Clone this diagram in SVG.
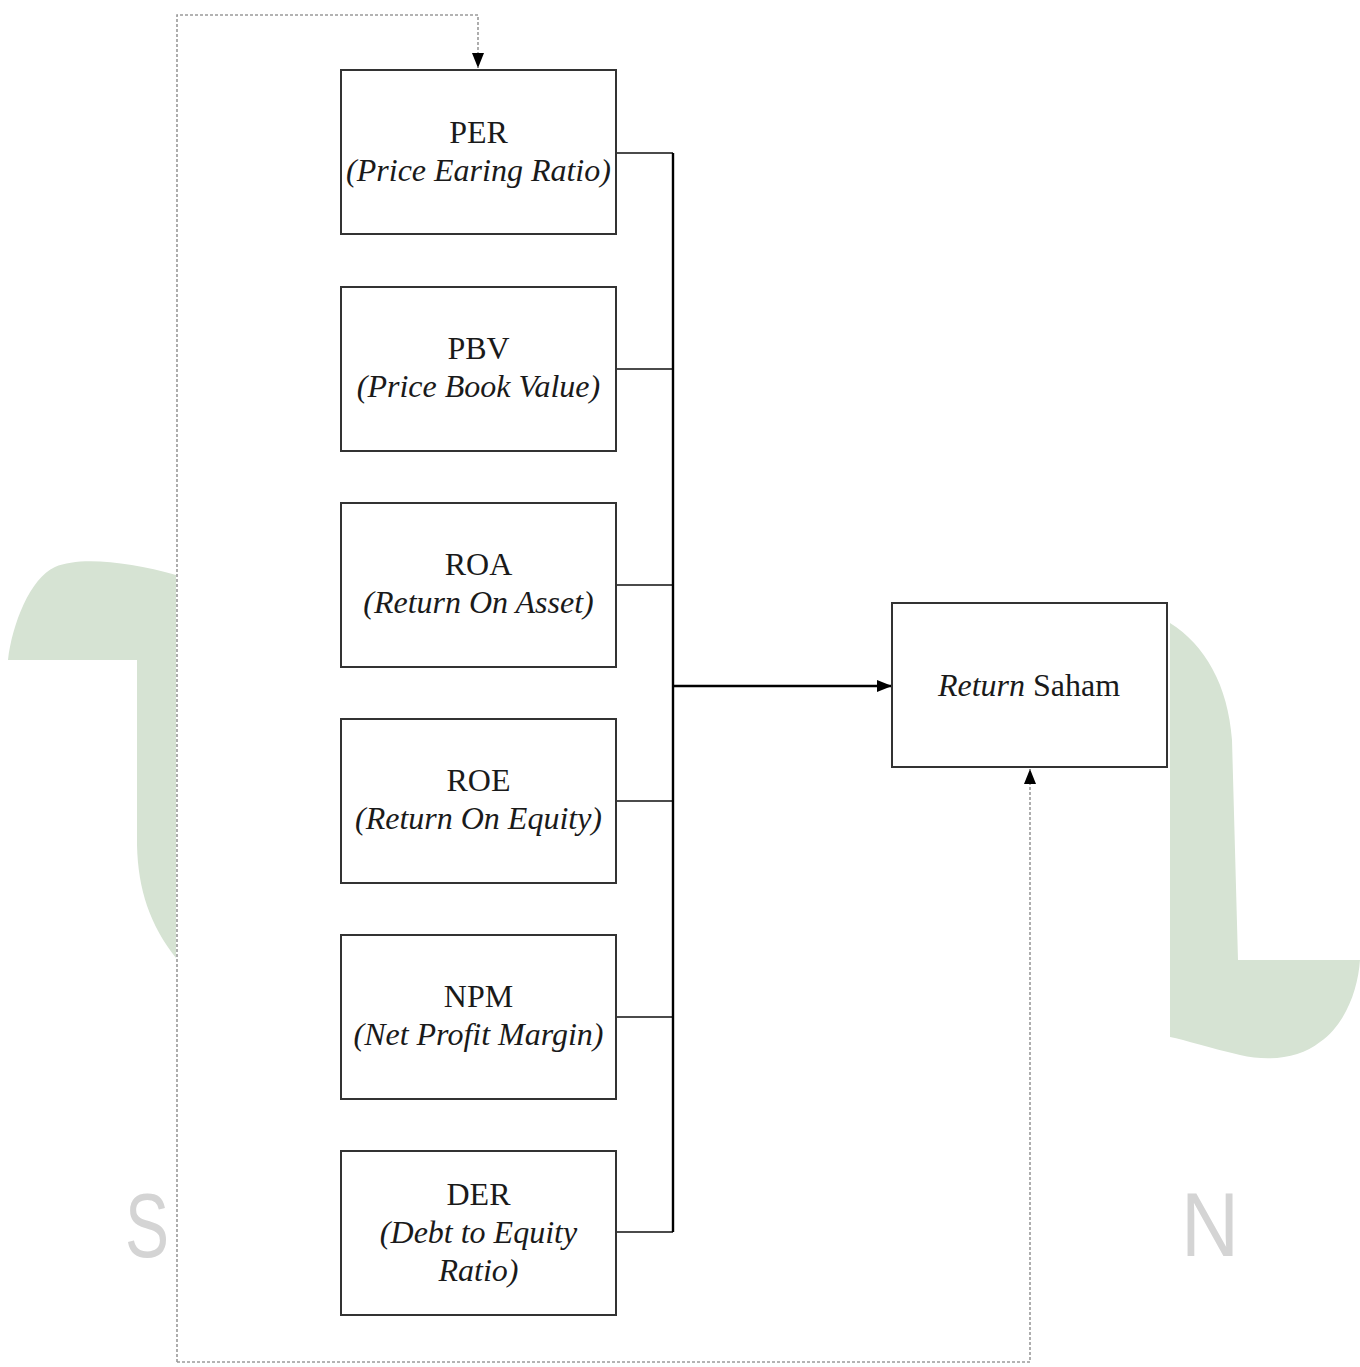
<svg xmlns="http://www.w3.org/2000/svg" width="1360" height="1367" viewBox="0 0 1360 1367">
<defs>
<style>
.box{fill:#fff;stroke:#333;stroke-width:2}
.t{font-family:"Liberation Serif","Times New Roman",serif;font-size:32px;fill:#1a1a1a;text-anchor:middle}
.i{font-style:italic}
.stub{fill:none;stroke:#111;stroke-width:1.6}
.bus{fill:none;stroke:#000;stroke-width:2.4}
.dot{fill:none;stroke:#9a9a9a;stroke-width:1.6;stroke-dasharray:3 2}
.wm{fill:#d6e3d3}
.wt{font-family:"Liberation Sans",Arial,sans-serif;font-size:90px;fill:#d4d4d4}
</style>
<marker id="ah" viewBox="0 0 10 10" refX="10" refY="5" markerWidth="15" markerHeight="12" markerUnits="userSpaceOnUse" orient="auto" preserveAspectRatio="none">
<path d="M0,0 L10,5 L0,10 Z" fill="#000"/>
</marker>
<marker id="ahd" viewBox="0 0 10 10" refX="10" refY="5" markerWidth="15" markerHeight="12" markerUnits="userSpaceOnUse" orient="auto" preserveAspectRatio="none">
<path d="M0,0 L10,5 L0,10 Z" fill="#000"/>
</marker>
</defs>
<rect width="1360" height="1367" fill="#fff"/>
<g id="watermark">
<path class="wm" d="M8,660 C12,625 30,578 55,567 C80,556 130,562 176,575 L176,958 C150,925 138,890 137,845 L137,660 Z"/>
<path class="wm" d="M1170,623 C1205,645 1228,685 1232,740 L1238,960 L1360,960 C1358,990 1345,1025 1320,1042 C1300,1058 1270,1062 1240,1055 C1210,1048 1185,1040 1170,1037 Z"/>
<text class="wt" x="125" y="1257" textLength="44" lengthAdjust="spacingAndGlyphs">S</text>
<text class="wt" x="1181" y="1256" textLength="58" lengthAdjust="spacingAndGlyphs">N</text>
</g>
<g id="connectors">
<path class="dot" d="M177,1362 L177,15 L478,15 L478,68" marker-end="url(#ahd)"/>
<path class="dot" d="M177,1362 L1030,1362 L1030,769" marker-end="url(#ahd)"/>
<path class="stub" d="M616,153 H673 M616,369 H673 M616,585 H673 M616,801 H673 M616,1017 H673 M616,1232 H673"/>
<path class="bus" d="M673,153 V1232"/>
<path class="bus" d="M673,686 H892" marker-end="url(#ah)"/>
</g>
<g id="per">
<rect class="box" x="341" y="70" width="275" height="164"/>
<text class="t" x="478.5" y="143">PER</text>
<text class="t i" x="478.5" y="181">(Price Earing Ratio)</text>
</g>
<g id="pbv">
<rect class="box" x="341" y="287" width="275" height="164"/>
<text class="t" x="478.5" y="359">PBV</text>
<text class="t i" x="478.5" y="397">(Price Book Value)</text>
</g>
<g id="roa">
<rect class="box" x="341" y="503" width="275" height="164"/>
<text class="t" x="478.5" y="575">ROA</text>
<text class="t i" x="478.5" y="613">(Return On Asset)</text>
</g>
<g id="roe">
<rect class="box" x="341" y="719" width="275" height="164"/>
<text class="t" x="478.5" y="791">ROE</text>
<text class="t i" x="478.5" y="829">(Return On Equity)</text>
</g>
<g id="npm">
<rect class="box" x="341" y="935" width="275" height="164"/>
<text class="t" x="478.5" y="1007">NPM</text>
<text class="t i" x="478.5" y="1045">(Net Profit Margin)</text>
</g>
<g id="der">
<rect class="box" x="341" y="1151" width="275" height="164"/>
<text class="t" x="478.5" y="1205">DER</text>
<text class="t i" x="478.5" y="1243">(Debt to Equity</text>
<text class="t i" x="478.5" y="1281">Ratio)</text>
</g>
<g id="return-saham">
<rect class="box" x="892" y="603" width="275" height="164"/>
<text class="t" x="1029" y="696"><tspan class="i">Return</tspan> Saham</text>
</g>
</svg>
